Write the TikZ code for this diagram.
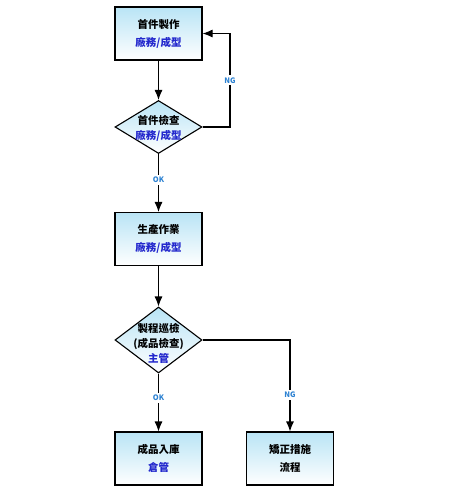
\documentclass[tikz,border=0pt]{standalone}
\usepackage{fontspec}
\setmainfont{Noto Sans CJK TC}
\usetikzlibrary{shapes.geometric,arrows.meta,positioning}
\definecolor{boxtop}{RGB}{185,228,245}
\definecolor{roleblue}{RGB}{35,40,205}
\definecolor{tagblue}{RGB}{45,130,210}
\tikzset{
    stepbox/.style={draw, line width=1.1pt, top color=boxtop, middle color=boxtop!25,
        bottom color=white, minimum width=87pt, minimum height=53pt, inner sep=0pt,
        align=center, font=\bfseries\fontsize{10.5}{18}\selectfont},
    checkdia/.style={diamond, draw, line width=1.1pt, top color=boxtop,
        middle color=white, bottom color=white, inner sep=0pt, minimum width=87pt},
    checktext/.style={align=center, inner sep=0pt, font=\bfseries\fontsize{10.5}{15}\selectfont},
    flow/.style={line width=1.1pt, -{Latex[length=10pt,width=8pt]}},
    tag/.style={fill=white, inner sep=2pt, text=tagblue, font=\bfseries\fontsize{7.5}{8}\selectfont}
}
\begin{document}
\begin{tikzpicture}[x=1pt, y=-1pt]
    \useasboundingbox (0,0) rectangle (450,493);
    % steps
    \node[stepbox] (first) at (158.5,33.5) {首件製作\\\textcolor{roleblue}{廠務/成型}};
    \node[checkdia, minimum height=53pt] (firstchk) at (158.5,127) {};
    \node[checktext] (firstchktxt) at (158.5,128) {首件檢查\\\textcolor{roleblue}{廠務/成型}};
    \node[stepbox] (produce) at (158.5,239) {生產作業\\\textcolor{roleblue}{廠務/成型}};
    \node[checkdia, minimum height=66pt] (patrol) at (158.5,340) {};
    \node[checktext] (patroltxt) at (158.5,343) {製程巡檢\\(成品檢查)\\\textcolor{roleblue}{主管}};
    \node[stepbox] (store) at (158.5,458.5) {成品入庫\\\textcolor{roleblue}{倉管}};
    \node[stepbox] (fix) at (290,458.5) {矯正措施\\流程};
    \coordinate (loop) at (230,33.5);
    % connectors
    \draw[flow] (first) -- (firstchk);
    \draw[flow] (firstchk.east) -| node[tag, pos=0.75] (ng1) {NG} (loop) -- (first.east);
    \draw[flow] (firstchk) -- node[tag, pos=0.45] (ok1) {OK} (produce);
    \draw[flow] (produce) -- (patrol);
    \draw[flow] (patrol) -- node[tag, pos=0.42] (ok2) {OK} (store);
    \draw[flow] (patrol.east) -| node[tag, pos=0.8] (ng2) {NG} (fix.north);
\end{tikzpicture}
\end{document}
